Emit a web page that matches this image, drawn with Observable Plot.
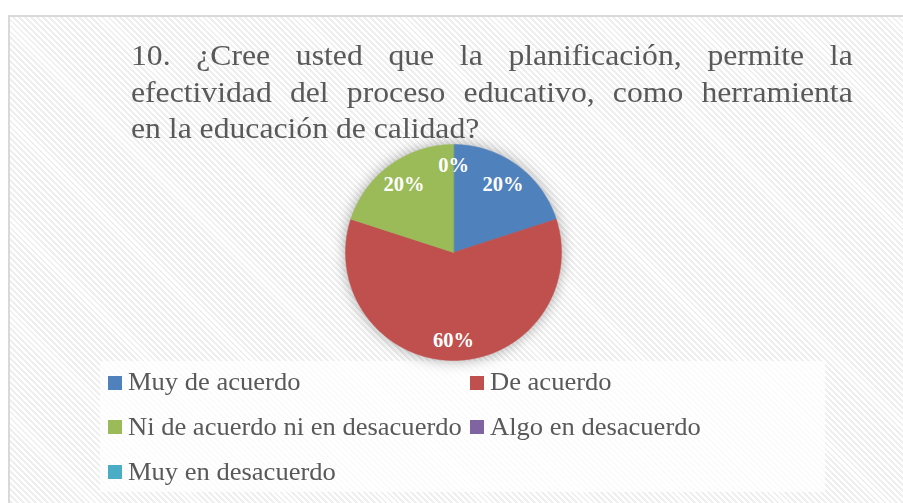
<!DOCTYPE html>
<html>
<head>
<meta charset="utf-8">
<script src="https://cdn.jsdelivr.net/npm/d3@7"></script>
<script src="https://cdn.jsdelivr.net/npm/@observablehq/plot@0.6"></script>
<style>
  html, body { margin: 0; padding: 0; background: #fff; }
  #wrap { position: relative; width: 903px; height: 503px; overflow: hidden; background: #fff; }
  #frame { position: absolute; left: 8px; top: 15px; width: 910px; height: 510px;
    border: 2px solid #d9d9d9; box-sizing: border-box;
    background: repeating-linear-gradient(45deg, #ffffff 0px, #ffffff 2.2px, #efefef 2.2px, #efefef 4.2px); }
  #title { position: absolute; left: 131px; top: 37px; width: 672px;
    transform: scaleX(1.074); transform-origin: 0 0;
    font-family: "Times New Roman", "Liberation Serif", "DejaVu Serif", serif; font-size: 29.5px; line-height: 36.5px;
    color: #595959; }
  #title .j { text-align: justify; text-align-last: justify; white-space: nowrap; }
  #legendbox { position: absolute; left: 100px; top: 361px; width: 725px; height: 131px; background: rgba(255,255,255,0.75); }
  .item { position: absolute; font-family: "Times New Roman", "Liberation Serif", "DejaVu Serif", serif; font-size: 24.7px; color: #595959; white-space: nowrap; line-height: 24px; }
  .sw { position: absolute; left: 0; width: 14px; height: 14px; }
  .tx { position: absolute; left: 20px; top: 0; transform: scaleX(1.075); transform-origin: 0 0; }
  #chart { position: absolute; left: 0; top: 0; }
  #chart svg g[aria-label="line"] { filter: drop-shadow(0 0 7px rgba(0,0,0,0.33)); }
</style>
</head>
<body>
<div id="wrap">
  <div id="frame"></div>
  <div id="title"></div>
  <div id="legendbox"></div>
  <div id="chart"></div>
  <div id="legend"></div>
</div>
<script>
const titleLines = ["10. ¿Cree usted que la planificación, permite la", "efectividad del proceso educativo, como herramienta", "en la educación de calidad?"];
const categories = ["Muy de acuerdo", "De acuerdo", "Ni de acuerdo ni en desacuerdo", "Algo en desacuerdo", "Muy en desacuerdo"];
const values = [20, 60, 20, 0, 0];
const colors = ["#4f81bd", "#c0504d", "#9bbb59", "#8064a2", "#4bacc6"];
const labels = ["20%", "60%", "20%", "0%", ""];

const t = document.getElementById("title");
titleLines.forEach((l, i) => {
  const d = document.createElement("div");
  if (i < titleLines.length - 1) d.className = "j";
  d.textContent = l;
  t.appendChild(d);
});

// pie geometry derived from data (angles from top, clockwise)
const total = d3.sum(values);
const slices = [];
let acc = 0;
categories.forEach((c, i) => {
  const a0 = acc / total * 2 * Math.PI;
  acc += values[i];
  const a1 = acc / total * 2 * Math.PI;
  slices.push({cat: c, a0, a1, value: values[i], label: labels[i]});
});
const pts = [];
slices.forEach(s => {
  if (s.value <= 0) return;
  pts.push({cat: s.cat, x: 0, y: 0});
  const n = Math.max(2, Math.ceil((s.a1 - s.a0) / 0.01));
  for (let k = 0; k <= n; k++) {
    const a = s.a0 + (s.a1 - s.a0) * k / n;
    pts.push({cat: s.cat, x: Math.sin(a), y: Math.cos(a)});
  }
});
const lab = slices.filter(s => s.label !== "").map(s => {
  const m = (s.a0 + s.a1) / 2;
  const r = s.value === 0 || s.value > 50 ? 0.81 : 0.78;
  return {x: r * Math.sin(m), y: r * Math.cos(m), t: s.label};
});

const R = 108, cx = 453, cy = 252, W = 903, H = 503;
const chart = Plot.plot({
  width: W, height: H,
  margin: 0,
  x: {domain: [-cx / R, (W - cx) / R], axis: null},
  y: {domain: [-(H - cy) / R, cy / R], axis: null},
  color: {domain: categories, range: colors},
  style: {background: "transparent"},
  marks: [
    Plot.line(pts, {x: "x", y: "y", z: "cat", fill: "cat", stroke: "cat", strokeWidth: 0.5, curve: "linear-closed"}),
    Plot.text(lab, {x: "x", y: "y", text: "t", fill: "white", fontWeight: "bold", fontSize: 20.5,
      fontFamily: "Times New Roman, Liberation Serif, serif"})
  ]
});
document.getElementById("chart").appendChild(chart);

// legend
const pos = [[108, 370.4], [470, 370.4], [108, 414.7], [470, 414.7], [108, 459.7]];
const leg = document.getElementById("legend");
categories.forEach((c, i) => {
  const d = document.createElement("div");
  d.className = "item";
  d.style.left = pos[i][0] + "px";
  d.style.top = pos[i][1] + "px";
  d.innerHTML = `<span class="sw" style="top:5.5px;background:${chart.scale("color").apply(c)}"></span><span class="tx"></span>`;
  d.querySelector(".tx").textContent = c;
  leg.appendChild(d);
});
</script>
</body>
</html>
